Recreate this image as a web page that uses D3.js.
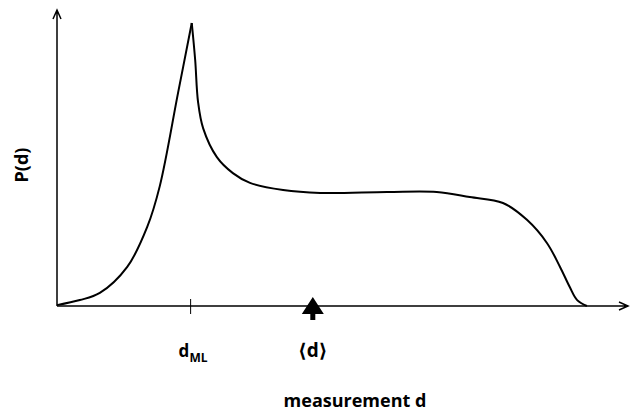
<!DOCTYPE html>
<html>
<head>
<meta charset="utf-8">
<script src="https://cdn.jsdelivr.net/npm/d3@7"></script>
<style>
  body { margin: 0; background: #fff; }
  text { font-family: "Open Sans", "DejaVu Sans", sans-serif; font-weight: bold; fill: #000; }
</style>
</head>
<body>
<div id="chart"></div>
<script>
var width = 631, height = 412,
    margin = { top: 10, right: 3, bottom: 106, left: 57 };

// P(d), split at the cusp d_ML
var riseD = [0, 0.40, 0.75, 1.23, 1.58, 1.80, 2.12, 2.36],
    riseP = [0.003, 0.02, 0.044, 0.132, 0.267, 0.405, 0.720, 0.956],
    fallD = [2.36, 2.42, 2.47, 2.56, 2.80, 3.08, 3.38, 3.96, 4.61, 5.78, 6.65, 7.23, 7.81, 8.23, 8.58, 8.81, 8.98, 9.11, 9.28],
    fallP = [0.956, 0.831, 0.690, 0.600, 0.503, 0.449, 0.416, 0.392, 0.382, 0.385, 0.385, 0.368, 0.348, 0.291, 0.213, 0.132, 0.064, 0.020, 0];

var dML = 2.34, dMean = 4.48;
var xMax = 10, yMax = 1;

var x = d3.scaleLinear().domain([0, xMax]).range([margin.left, width - margin.right]),
    y = d3.scaleLinear().domain([0, yMax]).range([height - margin.bottom, margin.top]);

var svg = d3.select("#chart").append("svg")
    .attr("width", width)
    .attr("height", height);

var line = d3.line()
    .x(function(d) { return x(d[0]); })
    .y(function(d) { return y(d[1]); })
    .curve(d3.curveCatmullRom.alpha(0.5));

// axes with open arrow heads
var x0 = x(0), y0 = y(0);
svg.append("path")
    .attr("d", "M" + x0 + "," + y0 + "V" + y(yMax) + "M" + (x0 - 4) + "," + (y(yMax) + 9) + "L" + x0 + "," + y(yMax) + "L" + (x0 + 4) + "," + (y(yMax) + 9))
    .attr("fill", "none").attr("stroke", "#000").attr("stroke-width", 1.5);
svg.append("path")
    .attr("d", "M" + x0 + "," + y0 + "H" + x(xMax) + "M" + (x(xMax) - 9) + "," + (y0 - 4) + "L" + x(xMax) + "," + y0 + "L" + (x(xMax) - 9) + "," + (y0 + 4))
    .attr("fill", "none").attr("stroke", "#000").attr("stroke-width", 1.5);

// curve
[d3.zip(riseD, riseP), d3.zip(fallD, fallP)].forEach(function(seg) {
  svg.append("path")
      .datum(seg)
      .attr("d", line)
      .attr("fill", "none")
      .attr("stroke", "#000")
      .attr("stroke-width", 2);
});

// d_ML tick
svg.append("line")
    .attr("x1", x(dML)).attr("x2", x(dML))
    .attr("y1", y0 - 7).attr("y2", y0 + 8)
    .attr("stroke", "#000").attr("stroke-width", 1);

// <d> marker: filled up arrow
var mx = x(dMean);
svg.append("path")
    .attr("d", "M" + mx + "," + (y0 - 9) + "L" + (mx + 11) + "," + (y0 + 8) + "H" + (mx + 2.5) + "V" + (y0 + 14) + "H" + (mx - 2.5) + "V" + (y0 + 8) + "H" + (mx - 11) + "Z")
    .attr("fill", "#000");

// labels
var lab = svg.append("text")
    .attr("x", x(dML) - 12)
    .attr("y", y0 + 51)
    .style("font-size", "17px");
lab.append("tspan").text("d");
lab.append("tspan").attr("dy", 5).style("font-size", "12px").text("ML");

svg.append("text")
    .attr("x", mx)
    .attr("y", y0 + 51)
    .attr("text-anchor", "middle")
    .style("font-size", "19px")
    .text("\u27E8d\u27E9");

svg.append("text")
    .attr("x", 355)
    .attr("y", 407)
    .attr("text-anchor", "middle")
    .style("font-size", "18px")
    .text("measurement d");

svg.append("text")
    .attr("transform", "translate(28,165) rotate(-90)")
    .attr("text-anchor", "middle")
    .style("font-size", "18px")
    .text("P(d)");
</script>
</body>
</html>
